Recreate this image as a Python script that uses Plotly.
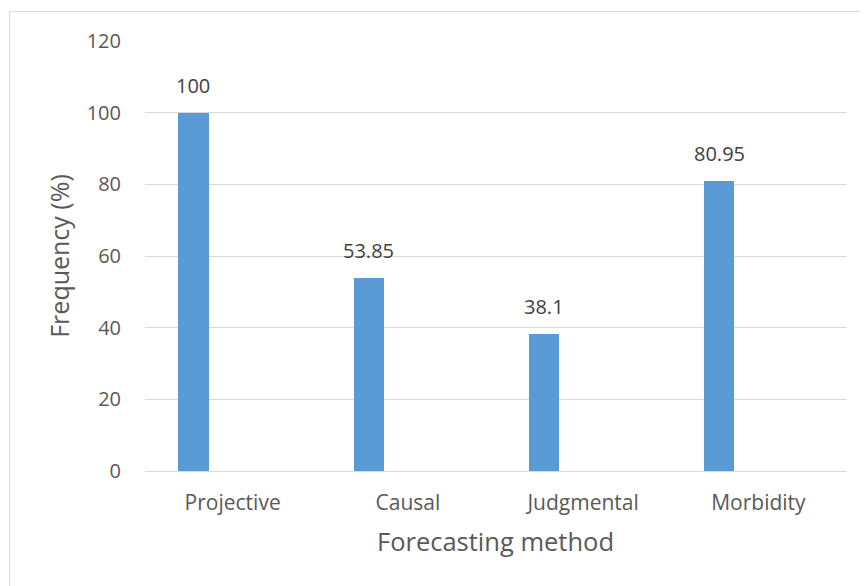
import plotly.graph_objects as go

categories = ["Projective", "Causal", "Judgmental", "Morbidity"]
values = [100, 53.85, 38.1, 80.95]
y_ticks = [0, 20, 40, 60, 80, 100, 120]

FONT = "Open Sans"
OFF = 8  # page body margin
L, T = 145 - OFF, 41 - OFF
pw, ph = 701, 430.5
W, H = 868, 586
R = W - L - pw
B = H - T - ph

BAR_W = 0.173
BAR_OFF = -0.31
slot_px = pw / len(categories)

fig = go.Figure()
fig.add_trace(go.Bar(
    x=categories,
    y=values,
    width=BAR_W,
    offset=BAR_OFF,
    marker=dict(color="#5b9bd5", line=dict(width=0)),
    showlegend=False,
    hoverinfo="x+y",
))

for c, v in zip(categories, values):
    fig.add_annotation(
        x=c, y=v, xref="x", yref="y",
        text=f"{v:g}", showarrow=False,
        xshift=(BAR_OFF + BAR_W / 2) * slot_px,
        yanchor="bottom", yshift=12,
        font=dict(family=FONT, size=20, color="#404040"),
    )

# outer chart border (left and top visible)
fig.add_shape(type="rect", xref="paper", yref="paper",
              x0=(9.5 - OFF - L) / pw, x1=(W + 20 - L) / pw,
              y0=-(B + 20) / ph, y1=1 + (T - (11.5 - OFF)) / ph,
              line=dict(color="#d9d9d9", width=1), fillcolor="rgba(0,0,0,0)", layer="below")

fig.update_layout(
    width=W, height=H,
    margin=dict(l=L, r=R, t=T, b=B, pad=0),
    paper_bgcolor="white", plot_bgcolor="white",
    font=dict(family=FONT, color="#595959"),
    bargap=0,
    xaxis=dict(
        type="category",
        showgrid=False,
        showline=True, linecolor="#d9d9d9", linewidth=1,
        ticks="", ticklabelstandoff=13,
        tickfont=dict(family=FONT, size=21, color="#595959"),
        title=dict(text="Forecasting method", font=dict(family=FONT, size=25.5, color="#595959"), standoff=17),
        range=[-0.5, 3.5],
    ),
    yaxis=dict(
        range=[0, 120],
        tickvals=y_ticks,
        showgrid=True, gridcolor="#d9d9d9", gridwidth=1,
        zeroline=False, showline=False,
        ticks="", ticklabelstandoff=23,
        tickfont=dict(family=FONT, size=20, color="#595959"),
        title=dict(text="Frequency (%)", font=dict(family=FONT, size=25, color="#595959"), standoff=9),
    ),
)

fig.write_html("out.html")
